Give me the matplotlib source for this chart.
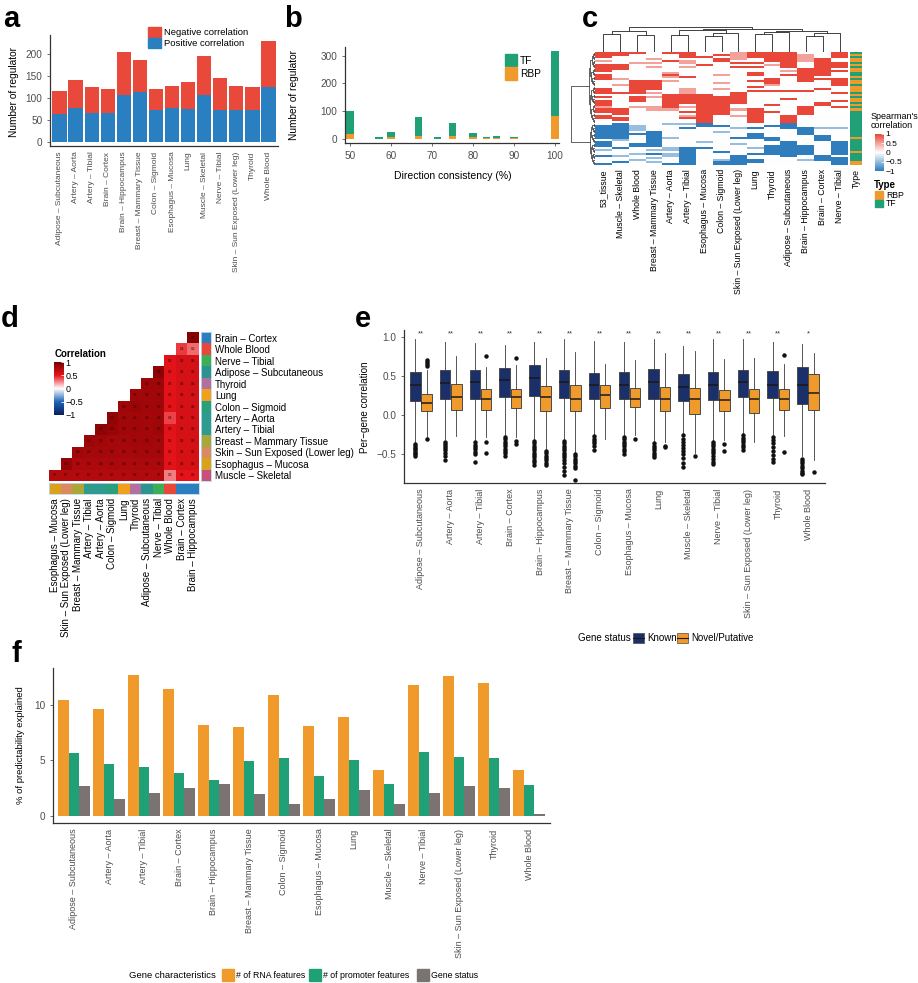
import numpy as np
import matplotlib
matplotlib.use('Agg')
import matplotlib.pyplot as plt
from matplotlib.colors import LinearSegmentedColormap, to_rgb
from matplotlib.patches import Patch, Rectangle

plt.rcParams['font.family'] = ['Liberation Sans', 'DejaVu Sans']

# ---------------- data ----------------
TISSUES = ['Adipose – Subcutaneous', 'Artery – Aorta', 'Artery – Tibial', 'Brain – Cortex',
           'Brain – Hippocampus', 'Breast – Mammary Tissue', 'Colon – Sigmoid',
           'Esophagus – Mucosa', 'Lung', 'Muscle – Skeletal', 'Nerve – Tibial',
           'Skin – Sun Exposed (Lower leg)', 'Thyroid', 'Whole Blood']

# panel a
pos_corr = [62, 77, 65, 65, 106, 112, 73, 77, 75, 107, 72, 73, 71, 124]
neg_corr = [53, 64, 60, 55, 99, 74, 46, 49, 60, 88, 73, 54, 53, 106]

# panel b
consistency = [50, 57.1, 60, 66.7, 71.4, 75, 80, 83.3, 85.7, 90, 100]
rbp_count = [20, 2, 8, 11, 2, 12, 7, 3, 3, 4, 83]
tf_count = [80, 4, 18, 69, 4, 46, 15, 3, 7, 3, 234]

# panel c  (R=1, r=0.5, .=0, b=-0.5, B=-1), one string per column, top to bottom
HEAT_LABELS = ['53_tissue', 'Muscle – Skeletal', 'Whole Blood', 'Breast – Mammary Tissue',
               'Artery – Aorta', 'Artery – Tibial', 'Esophagus – Mucosa', 'Colon – Sigmoid',
               'Skin – Sun Exposed (Lower leg)', 'Lung', 'Thyroid', 'Adipose – Subcutaneous',
               'Brain – Hippocampus', 'Brain – Cortex', 'Nerve – Tibial']
HEAT_COLS = [
    "RRR.r.RR" "RR.RRR.." "..RRR.R." "RRRrRR.R" "R...BBBB" "BBB.BBB." "b..B...B",
    "RR....RR" "R....r.." "r...R..." "....RRR." "RR.BBBBB" "BBBb...B" "...b..B.",
    "R....r.." "......RR" "RRRRR.RR" "R..r...." "....bbb." "B....BB." "..b..b..",
    "...r.r.r" "......RR" "RRR.r.r." "...rr..." ".......B" "BBBBBBB." "b.B.b.b.",
    "R...R..." "..rRr.r." ".....RRR" "RRRRr..." "...b...." "..b....b" "b.bb...B",
    "RRR.rr.r" "....R..." "..rrrRRR" "RR.r.R.r" "R..b.B.." ".......B" "BBBBBBBB",
    "..R...R." "........" ".....RRR" "RRRRRRRR" "RRRBB..." "....b..B" "........",
    ".R.RR..." "...r...r" "..r...RR" "RRRRRRR." "....B..b" "........" ".B...bBB",
    "rrrr.R.R" "........" "....RRRR" "RR..r..r" ".....b.." "..B..b.." "...BBBBB",
    "RRR..R.R" "..RR..R." ".R.R...." "....RRRR" "RRR..B.." "BBB....b" "..B..BB.",
    "RRRRR.r." ".....RRR" "r..R...." "..R..R.." "....B..." "..BB..BB" "BBB.....",
    "RRRRRRRR" ".r.R...." "...R...R" ".......R" "RRRBBB.." "....BBBB" "BBBB....",
    ".rrrr..." "RRRRRRR." "...R...." "...RRRR." ".....BBB" "B.....BB" "BBB..b..",
    "...RRRRR" "RRRR.R.." "..R....." ".RR....." ".....b.." ".BBB...." "...BBB..",
    "RRR..RRR" ".R...RRR" "R...R..." "R..R...." ".....b.." "....BBBB" "BBB.BBBB",
]
HEAT_CODE = {'R': 1.0, 'r': 0.5, '.': 0.0, 'b': -0.5, 'B': -1.0}
TYPE_COL = "gogoogog" "ooggogoo" "gooogogo" "ogogoggg" "gggggggg" "ggoggggg" "goggggoo"
N_RED = 35
COL_TREE = (((0, 1, 0.71), (2, 3, 0.68), 0.84),
            (((4, 5, 0.65), ((6, 7, 0.61), 8, 0.74), 0.87),
             (((9, 10, 0.71), 11, 0.77), ((12, 13, 0.62), 14, 0.75), 0.84), 0.91),
            1.0)

# panel d
D_ORDER = ['Muscle – Skeletal', 'Esophagus – Mucosa', 'Skin – Sun Exposed (Lower leg)',
           'Breast – Mammary Tissue', 'Artery – Tibial', 'Artery – Aorta', 'Colon – Sigmoid',
           'Lung', 'Thyroid', 'Adipose – Subcutaneous', 'Nerve – Tibial', 'Whole Blood',
           'Brain – Cortex', 'Brain – Hippocampus']
D_ROWS = [
    [0.74, 0.74, 0.74, 0.74, 0.74, 0.74, 0.74, 0.75, 0.74, 0.74, 0.28, 0.50, 0.50],
    [0.86, 0.76, 0.77, 0.77, 0.78, 0.77, 0.77, 0.77, 0.77, 0.52, 0.58, 0.58],
    [0.82, 0.80, 0.80, 0.80, 0.79, 0.80, 0.80, 0.80, 0.52, 0.58, 0.58],
    [0.84, 0.82, 0.80, 0.80, 0.81, 0.82, 0.80, 0.52, 0.58, 0.58],
    [0.90, 0.86, 0.82, 0.82, 0.81, 0.83, 0.53, 0.58, 0.59],
    [0.89, 0.82, 0.82, 0.81, 0.82, 0.40, 0.58, 0.59],
    [0.83, 0.85, 0.82, 0.82, 0.53, 0.59, 0.59],
    [0.82, 0.82, 0.82, 0.53, 0.59, 0.59],
    [0.83, 0.83, 0.53, 0.59, 0.59],
    [0.90, 0.53, 0.59, 0.59],
    [0.53, 0.59, 0.59],
    [0.42, 0.32],
    [0.93],
]
TISSUE_COLORS = {
    'Muscle – Skeletal': '#C9507A', 'Esophagus – Mucosa': '#D9A21B',
    'Skin – Sun Exposed (Lower leg)': '#D98B5F', 'Breast – Mammary Tissue': '#A9A63A',
    'Artery – Tibial': '#2E9B8E', 'Artery – Aorta': '#2E9B8E', 'Colon – Sigmoid': '#2AA07A',
    'Lung': '#F2A01C', 'Thyroid': '#B2709E', 'Adipose – Subcutaneous': '#2A9590',
    'Nerve – Tibial': '#3DAE55', 'Whole Blood': '#E8473A', 'Brain – Cortex': '#2B7FBF',
    'Brain – Hippocampus': '#2B7FBF'}

# panel e  (box statistics)
known_lo = [-0.34, -0.31, -0.33, -0.26, -0.31, -0.31, -0.25, -0.26, -0.34, -0.24, -0.32, -0.24, -0.26, -0.52]
known_q1 = [0.18, 0.21, 0.21, 0.23, 0.24, 0.22, 0.21, 0.21, 0.21, 0.18, 0.19, 0.23, 0.22, 0.14]
known_med = [0.38, 0.41, 0.43, 0.45, 0.47, 0.42, 0.38, 0.39, 0.42, 0.36, 0.38, 0.43, 0.39, 0.39]
known_q3 = [0.55, 0.58, 0.58, 0.60, 0.64, 0.58, 0.54, 0.55, 0.59, 0.52, 0.55, 0.58, 0.56, 0.61]
known_hi = [0.97, 0.93, 0.92, 0.90, 0.94, 0.97, 0.95, 0.93, 0.97, 0.88, 0.98, 0.98, 0.93, 0.91]
known_fliers = [
    [-0.37, -0.40, -0.42, -0.44, -0.46, -0.48, -0.50, -0.52],
    [-0.34, -0.37, -0.40, -0.42, -0.45, -0.48, -0.52, -0.58],
    [-0.35, -0.38, -0.41, -0.44, -0.47, -0.50, -0.60],
    [-0.28, -0.31, -0.34, -0.37, -0.40, -0.43, -0.46, -0.49, -0.53],
    [-0.33, -0.36, -0.39, -0.42, -0.45, -0.48, -0.51, -0.54, -0.57, -0.60, -0.64],
    [-0.33, -0.36, -0.39, -0.42, -0.45, -0.48, -0.51, -0.54, -0.58, -0.62, -0.66, -0.72, -0.77],
    [-0.27, -0.30, -0.33, -0.36, -0.40, -0.45],
    [-0.28, -0.31, -0.34, -0.37, -0.40, -0.43, -0.46, -0.50],
    [-0.36, -0.39, -0.42, -0.45, -0.48, -0.51, -0.54],
    [-0.26, -0.30, -0.34, -0.38, -0.42, -0.46, -0.50, -0.55, -0.61, -0.66],
    [-0.34, -0.37, -0.40, -0.43, -0.46, -0.49, -0.52, -0.56, -0.60, -0.63],
    [-0.26, -0.29, -0.32, -0.35, -0.38, -0.41, -0.45],
    [-0.28, -0.32, -0.36, -0.41, -0.46, -0.51, -0.56, -0.60],
    [-0.56, -0.59, -0.62, -0.65, -0.68, -0.71, -0.74, -0.76],
]
novel_lo = [-0.28, -0.27, -0.28, -0.28, -0.43, -0.47, -0.30, -0.26, -0.34, -0.49, -0.32, -0.34, -0.27, -0.58]
novel_q1 = [0.05, 0.07, 0.07, 0.09, 0.05, 0.05, 0.085, 0.10, 0.055, 0.02, 0.05, 0.03, 0.07, 0.07]
novel_med = [0.16, 0.235, 0.21, 0.23, 0.23, 0.20, 0.26, 0.21, 0.205, 0.20, 0.19, 0.205, 0.21, 0.285]
novel_q3 = [0.27, 0.40, 0.34, 0.34, 0.37, 0.38, 0.39, 0.35, 0.355, 0.345, 0.325, 0.34, 0.33, 0.525]
novel_hi = [0.58, 0.76, 0.62, 0.64, 0.73, 0.81, 0.65, 0.70, 0.80, 0.82, 0.72, 0.73, 0.66, 0.80]
novel_fliers = [
    [0.63, 0.65, 0.68, 0.70, -0.31],
    [],
    [0.76, -0.35, -0.49],
    [0.73, -0.33, -0.37],
    [-0.46, -0.49, -0.52, -0.55, -0.58, -0.61, -0.64],
    [-0.50, -0.53, -0.56, -0.59, -0.62, -0.65, -0.68, -0.83],
    [],
    [-0.31],
    [-0.39, -0.41],
    [-0.53],
    [-0.37, -0.46],
    [],
    [0.77, -0.47],
    [-0.73],
]
signif = ['**'] * 13 + ['*']

# panel f
rna_feat = [10.45, 9.58, 12.7, 11.44, 8.14, 7.99, 10.9, 8.05, 8.89, 4.17, 11.8, 12.58, 11.95, 4.17]
promoter_feat = [5.65, 4.65, 4.41, 3.87, 3.21, 4.98, 5.2, 3.63, 5.04, 2.91, 5.73, 5.3, 5.22, 2.76]
gene_status = [2.73, 1.5, 2.07, 2.49, 2.85, 1.98, 1.05, 1.56, 2.34, 1.05, 2.04, 2.7, 2.55, 0.15]

# ---------------- style ----------------
RED = '#E8493A'
BLUE = '#2A7FC0'
GREEN = '#1FA077'
ORANGE = '#EF9A2B'
NAVY = '#1B2F6B'
GRAY = '#7A7372'
TXT = '#4D4D4D'

W, H = 918, 983
fig = plt.figure(figsize=(W / 100, H / 100), dpi=100)


def px_axes(x0, y0, x1, y1):
    return fig.add_axes([x0 / W, 1 - y1 / H, (x1 - x0) / W, (y1 - y0) / H])


def fx(x):
    return x / W


def fy(y):
    return 1 - y / H


def classic(ax):
    for s in ['top', 'right']:
        ax.spines[s].set_visible(False)
    for s in ['left', 'bottom']:
        ax.spines[s].set_color('#333333')
        ax.spines[s].set_linewidth(0.9)
    ax.tick_params(length=2, width=0.5, color='#333333', labelcolor=TXT)


def panel_letter(x, y, s):
    fig.text(fx(x), fy(y), s, fontsize=21, fontweight='bold', va='baseline', ha='left')


def draw_tree(ax, node, vertical, lw=0.6, color='#222222'):
    if isinstance(node, int):
        return node, 0.0
    left, right, h = node
    pl, hl = draw_tree(ax, left, vertical, lw, color)
    pr, hr = draw_tree(ax, right, vertical, lw, color)
    a = [pl, pl, pr, pr]
    b = [hl, h, h, hr]
    if vertical:
        ax.plot(a, b, color=color, lw=lw, solid_capstyle='butt')
    else:
        ax.plot(b, a, color=color, lw=lw, solid_capstyle='butt')
    return (pl + pr) / 2, h


def split_tree(lo, hi):
    if hi - lo == 1:
        return lo
    mid = (lo + hi) // 2
    return (split_tree(lo, mid), split_tree(mid, hi), 0.045 * np.ceil(np.log2(hi - lo)))


# ---------------- panel a ----------------
x14 = np.arange(len(TISSUES))
ax = px_axes(50, 35, 278, 146)
ax.bar(x14, pos_corr, width=0.9, color=BLUE)
ax.bar(x14, neg_corr, bottom=pos_corr, width=0.9, color=RED)
ax.set_xlim(-0.6, 13.6)
ax.set_ylim(-10, 243)
classic(ax)
ax.set_yticks([0, 50, 100, 150, 200])
ax.tick_params(axis='y', labelsize=7.2)
ax.set_xticks(x14)
ax.set_xticklabels(TISSUES, rotation=90, fontsize=6)
ax.tick_params(axis='x', length=0, pad=4)
ax.legend([Patch(color=RED), Patch(color=BLUE)], ['Negative correlation', 'Positive correlation'],
          loc='upper left', bbox_to_anchor=(fx(148), fy(27)), bbox_transform=fig.transFigure,
          frameon=False, fontsize=6.8, borderpad=0, handlelength=1.4, handleheight=1.3,
          handletextpad=0.3, labelspacing=0.05, borderaxespad=0)
fig.text(fx(14), fy(92), 'Number of regulator', rotation=90, ha='center', va='center', fontsize=7.3)
panel_letter(3, 27, 'a')

# ---------------- panel b ----------------
ax = px_axes(345, 47, 559, 143)
ax.bar(consistency, rbp_count, width=1.8, color=ORANGE)
ax.bar(consistency, tf_count, bottom=rbp_count, width=1.8, color=GREEN)
ax.set_xlim(48.8, 101)
ax.set_ylim(-14, 331)
classic(ax)
ax.set_xticks([50, 60, 70, 80, 90, 100])
ax.set_yticks([0, 100, 200, 300])
ax.tick_params(labelsize=7.2)
ax.legend([Patch(color=GREEN), Patch(color=ORANGE)], ['TF', 'RBP'],
          loc='upper left', bbox_to_anchor=(fx(505), fy(54)), bbox_transform=fig.transFigure,
          frameon=False, fontsize=7.3, borderpad=0, handlelength=1.2, handleheight=1.5,
          handletextpad=0.3, labelspacing=0.1, borderaxespad=0)
fig.text(fx(294), fy(95), 'Number of regulator', rotation=90, ha='center', va='center', fontsize=7.3)
fig.text(fx(453), fy(176), 'Direction consistency (%)', ha='center', va='center', fontsize=7.5)
panel_letter(284, 27, 'b')

# ---------------- panel c ----------------
heat = np.array([[HEAT_CODE[ch] for ch in col] for col in HEAT_COLS]).T
n_rows = heat.shape[0]
cmap_c = LinearSegmentedColormap.from_list('c', ['#2F7DBD', '#FFFFFF', '#E8473A'])
ax = px_axes(595, 52, 848, 165)
ax.imshow(heat, aspect='auto', cmap=cmap_c, vmin=-1, vmax=1, interpolation='nearest')
ax.set_xticks(np.arange(len(HEAT_LABELS)))
ax.set_xticklabels(HEAT_LABELS, rotation=90, fontsize=6.3)
ax.set_yticks([])
ax.tick_params(axis='x', length=0, pad=3)
for s in ax.spines.values():
    s.set_visible(False)

type_rgb = np.array([[to_rgb(ORANGE if t == 'o' else GREEN)] for t in TYPE_COL])
ax = px_axes(850, 52, 862, 165)
ax.imshow(type_rgb, aspect='auto', interpolation='nearest')
ax.set_xticks([0])
ax.set_xticklabels(['Type'], rotation=90, fontsize=6.3)
ax.set_yticks([])
ax.tick_params(axis='x', length=0, pad=3)
for s in ax.spines.values():
    s.set_visible(False)

ax = px_axes(595, 26, 848, 52)
draw_tree(ax, COL_TREE, True)
ax.set_xlim(-0.5, len(HEAT_LABELS) - 0.5)
ax.set_ylim(0, 1.02)
ax.axis('off')

ax = px_axes(571, 52, 595, 165)
row_tree = (split_tree(0, N_RED), split_tree(N_RED, n_rows), 1.0)
draw_tree(ax, row_tree, False, lw=0.5)
ax.set_ylim(n_rows - 0.5, -0.5)
ax.set_xlim(1.0, 0)
ax.axis('off')

fig.text(fx(871), fy(121), "Spearman's\ncorrelation", fontsize=6.5, va='center', ha='left',
         linespacing=1.1)
ax = px_axes(875, 134, 884, 171)
ax.imshow(np.linspace(1, -1, 100)[:, None], aspect='auto', cmap=cmap_c, vmin=-1, vmax=1,
          extent=[0, 1, -1, 1])
ax.set_xticks([])
ax.yaxis.tick_right()
ax.set_yticks([1, 0.5, 0, -0.5, -1])
ax.set_yticklabels(['1', '0.5', '0', '−0.5', '−1'], fontsize=6)
ax.tick_params(axis='y', length=2, width=0.5, color='white', pad=1, direction='in')
for s in ax.spines.values():
    s.set_visible(False)
fig.text(fx(874), fy(185), 'Type', fontsize=7, fontweight='bold', va='center')
for yy, col, lab in [(195, ORANGE, 'RBP'), (203.5, GREEN, 'TF')]:
    fig.add_artist(Rectangle((fx(875), fy(yy + 3.5)), 8 / W, 7 / H, color=col,
                             transform=fig.transFigure))
    fig.text(fx(886), fy(yy), lab, fontsize=6.2, va='center')
panel_letter(582, 27, 'c')

# ---------------- panel d ----------------
nd = len(D_ROWS)
dmat = np.full((nd, nd), np.nan)
for r, vals in enumerate(D_ROWS):
    for k, v in enumerate(vals):
        dmat[r, r + k] = v
cmap_d = LinearSegmentedColormap.from_list('d', ['#0B1F5E', '#2166B8', '#FFFFFF', '#E8151B', '#7A0000'])
ax = px_axes(49, 332, 199, 481)
ax.imshow(dmat, origin='lower', cmap=cmap_d, vmin=-1, vmax=1, aspect='auto',
          interpolation='nearest', extent=[-0.5, nd - 0.5, -0.5, nd - 0.5])
for r in range(nd):
    for c in range(r, nd):
        ax.text(c, r, f'{dmat[r, c]:.1f}', fontsize=2.3, ha='center', va='center', color='#3A0000')
ax.set_xlim(-0.5, nd - 0.5)
ax.set_ylim(-0.5, nd - 0.5)
ax.axis('off')

row_names = D_ORDER[:nd]
col_names = D_ORDER[1:]
ax = px_axes(201, 332, 211, 481)
ax.imshow(np.array([[to_rgb(TISSUE_COLORS[t])] for t in row_names]), origin='lower',
          aspect='auto', interpolation='nearest')
ax.yaxis.tick_right()
ax.set_yticks(np.arange(nd))
ax.set_yticklabels(row_names, fontsize=7)
ax.set_xticks([])
ax.tick_params(axis='y', length=0, pad=3)
for s in ax.spines.values():
    s.set_color('#BFD9EE')
    s.set_linewidth(0.6)

ax = px_axes(49, 483, 199, 494)
ax.imshow(np.array([[to_rgb(TISSUE_COLORS[t]) for t in col_names]]), aspect='auto',
          interpolation='nearest')
ax.set_xticks(np.arange(nd))
ax.set_xticklabels(col_names, rotation=90, fontsize=7)
ax.set_yticks([])
ax.tick_params(axis='x', length=0, pad=3)
for s in ax.spines.values():
    s.set_color('#BFD9EE')
    s.set_linewidth(0.6)

fig.text(fx(55), fy(354), 'Correlation', fontsize=7, fontweight='bold', va='center')
ax = px_axes(54, 362, 64, 415)
ax.imshow(np.linspace(1, -1, 100)[:, None], aspect='auto', cmap=cmap_d, vmin=-1, vmax=1,
          extent=[0, 1, -1, 1])
ax.set_xticks([])
ax.yaxis.tick_right()
ax.set_yticks([1, 0.5, 0, -0.5, -1])
ax.set_yticklabels(['1', '0.5', '0', '−0.5', '−1'], fontsize=6.5)
ax.tick_params(axis='y', length=2.5, width=0.6, color='white', pad=1, direction='in')
for s in ax.spines.values():
    s.set_visible(False)
panel_letter(1, 327, 'd')

# ---------------- panel e ----------------
ax = px_axes(404, 330, 825, 483)
known_stats, novel_stats = [], []
for i in range(len(TISSUES)):
    known_stats.append(dict(whislo=known_lo[i], q1=known_q1[i], med=known_med[i], q3=known_q3[i],
                            whishi=known_hi[i], fliers=known_fliers[i]))
    novel_stats.append(dict(whislo=novel_lo[i], q1=novel_q1[i], med=novel_med[i], q3=novel_q3[i],
                            whishi=novel_hi[i], fliers=novel_fliers[i]))
for stats, off, col in [(known_stats, -0.1875, NAVY), (novel_stats, 0.1875, ORANGE)]:
    ax.bxp(stats, positions=x14 + off, widths=0.35, patch_artist=True, showcaps=False,
           boxprops=dict(facecolor=col, edgecolor='#4A4A4A', linewidth=0.7),
           medianprops=dict(color='#1A1A1A', linewidth=1.1),
           whiskerprops=dict(color='#3A3A3A', linewidth=0.6),
           flierprops=dict(marker='o', markersize=2.2, markerfacecolor='#111111',
                           markeredgecolor='#111111'))
for i, s in enumerate(signif):
    ax.text(x14[i], 1.045, s, ha='center', va='center', fontsize=5.5, color='#333333')
ax.set_xlim(-0.57, 13.57)
ax.set_ylim(-0.87, 1.09)
classic(ax)
ax.set_yticks([-0.5, 0, 0.5, 1.0])
ax.set_yticklabels(['−0.5', '0.0', '0.5', '1.0'], fontsize=7.2)
ax.set_xticks(x14)
ax.set_xticklabels(TISSUES, rotation=90, fontsize=6.5)
ax.tick_params(axis='x', length=0, pad=4)
fig.text(fx(365), fy(407), 'Per−gene correlation', rotation=90, ha='center', va='center', fontsize=7.1)
fig.text(fx(578), fy(638), 'Gene status', fontsize=7, va='center')
for bx, col, lab in [(633, NAVY, 'Known'), (677, ORANGE, 'Novel/Putative')]:
    fig.add_artist(Rectangle((fx(bx), fy(643)), 11 / W, 10 / H, facecolor=col,
                             edgecolor='#4A4A4A', linewidth=0.5, transform=fig.transFigure))
    fig.add_artist(plt.Line2D([fx(bx), fx(bx + 11)], [fy(638), fy(638)], color='#1A1A1A',
                              lw=0.8, transform=fig.transFigure))
    fig.text(fx(bx + 14), fy(638), lab, fontsize=7, va='center')
panel_letter(355, 327, 'e')

# ---------------- panel f ----------------
ax = px_axes(53, 668, 550, 823)
ax.bar(x14 - 0.3, rna_feat, width=0.3, color=ORANGE)
ax.bar(x14, promoter_feat, width=0.3, color=GREEN)
ax.bar(x14 + 0.3, gene_status, width=0.3, color=GRAY)
ax.set_xlim(-0.6, 13.6)
ax.set_ylim(-0.63, 13.3)
classic(ax)
ax.set_yticks([0, 5, 10])
ax.tick_params(axis='y', labelsize=7.2)
ax.set_xticks(x14)
ax.set_xticklabels(TISSUES, rotation=90, fontsize=6.5)
ax.tick_params(axis='x', length=0, pad=4)
fig.text(fx(21), fy(745), '% of predictability explained', rotation=90, ha='center', va='center',
         fontsize=6.8)
fig.text(fx(129), fy(975), 'Gene characteristics', fontsize=6.8, va='center')
for bx, col, lab in [(222, ORANGE, '# of RNA features'), (309, GREEN, '# of promoter features'),
                     (417, GRAY, 'Gene status')]:
    fig.add_artist(Rectangle((fx(bx), fy(981)), 12 / W, 12 / H, color=col,
                             transform=fig.transFigure))
    fig.text(fx(bx + 14), fy(975), lab, fontsize=6.3, va='center')
panel_letter(12, 662, 'f')

fig.savefig('out.png', dpi=100)
